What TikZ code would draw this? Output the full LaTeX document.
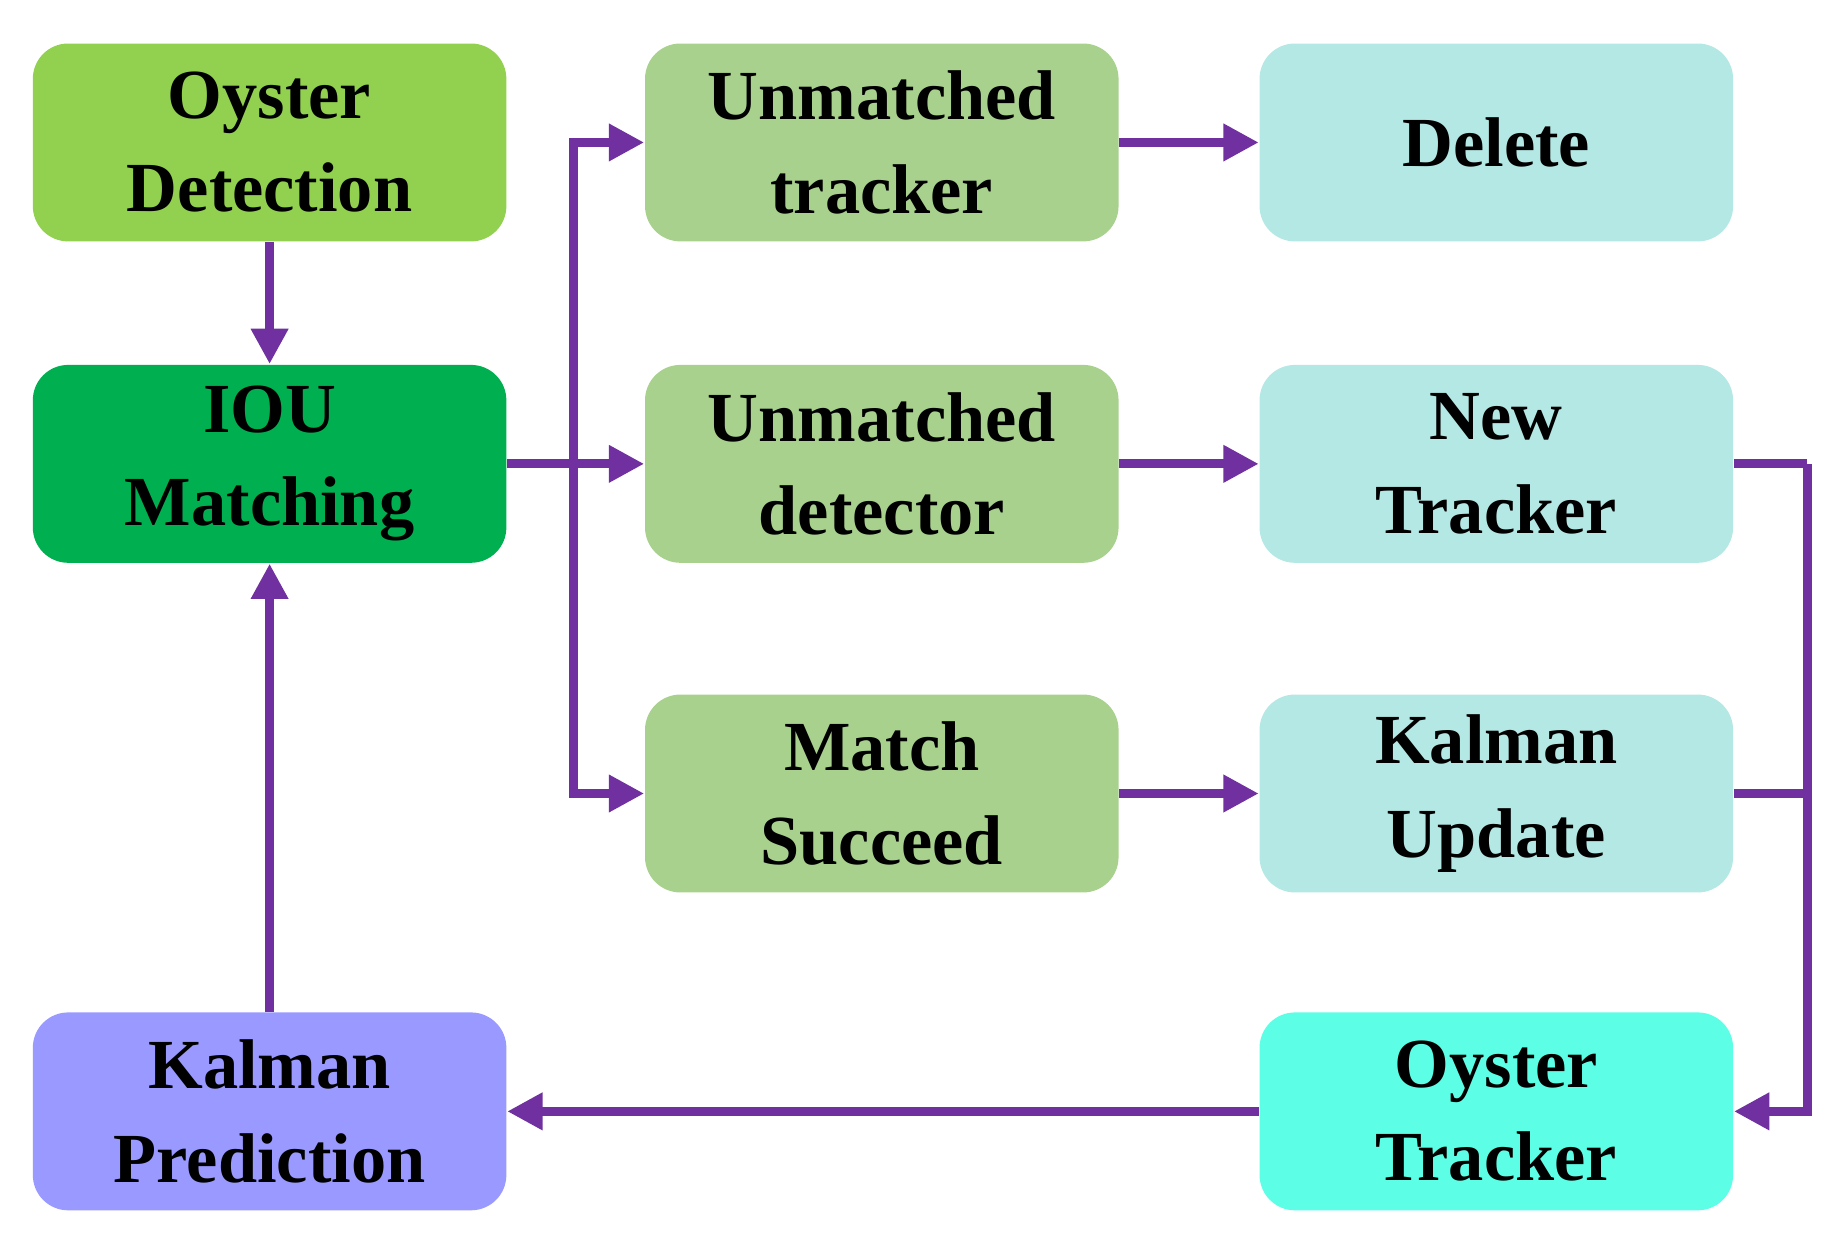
\documentclass[tikz,border=0pt]{standalone}
\usepackage{fontspec}
\setmainfont{Liberation Serif}
\usetikzlibrary{arrows.meta}
\definecolor{arr}{HTML}{7030A0}
\definecolor{cA}{HTML}{92D050}
\definecolor{cB}{HTML}{00B050}
\definecolor{cC}{HTML}{9999FF}
\definecolor{cD}{HTML}{A9D18E}
\definecolor{cE}{HTML}{B4E8E4}
\definecolor{cF}{HTML}{5CFFE6}
\begin{document}
\begin{tikzpicture}[x=0.01cm,y=-0.01cm,
 box/.style={rounded corners=0.3cm,minimum width=4.02cm,minimum height=1.68cm,align=center,inner sep=0pt,
   font=\fontsize{17}{22.5}\selectfont\bfseries},
 ar/.style={draw=arr,line width=2.2pt,-{Triangle[length=0.3cm,width=0.3cm]}},
 ln/.style={draw=arr,line width=2.2pt}]
\useasboundingbox (0,0) rectangle (1568,1057);
\node[box,fill=cA] (od) at (229,121) {Oyster\\Detection};
\node[box,fill=cB] (iou) at (229,394) {IOU\\Matching};
\node[box,fill=cC] (kp) at (229,944) {Kalman\\Prediction};
\node[box,fill=cD] (ut) at (749,121) {Unmatched\\tracker};
\node[box,fill=cD] (ud) at (749,394) {Unmatched\\detector};
\node[box,fill=cD] (ms) at (749,674) {Match\\Succeed};
\node[box,fill=cE] (del) at (1271,121) {Delete};
\node[box,fill=cE] (nt) at (1271,394) {New\\Tracker};
\node[box,fill=cE] (ku) at (1271,674) {Kalman\\Update};
\node[box,fill=cF] (ot) at (1271,944) {Oyster\\Tracker};
\coordinate (b) at (487,394);
\coordinate (r) at (1535,394);
\draw[ar] (od) -- (iou);
\draw[ar] (kp) -- (iou);
\draw[ln] (iou) -- (b);
\draw[ar] (b) -- (ud);
\draw[ar] (b) |- (ut);
\draw[ar] (b) |- (ms);
\draw[ar] (ut) -- (del);
\draw[ar] (ud) -- (nt);
\draw[ar] (ms) -- (ku);
\draw[ln] (nt.east) -- (r);
\draw[ln] (ku.east) -- (r|-ku.east);
\draw[ar] (r) |- (ot.east);
\draw[ar] (ot) -- (kp);
\end{tikzpicture}
\end{document}
